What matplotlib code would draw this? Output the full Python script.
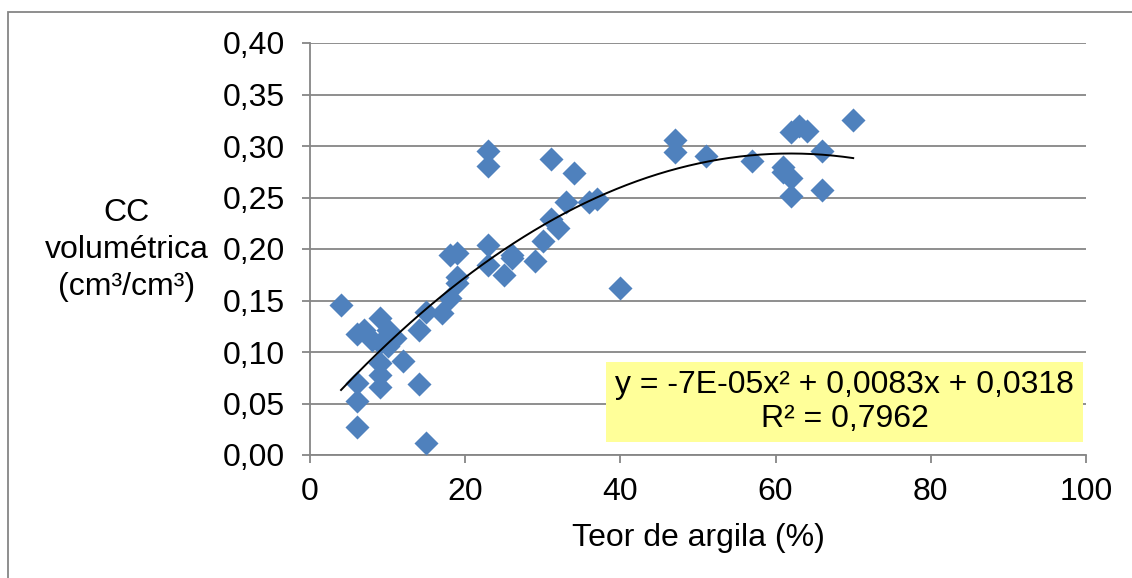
import numpy as np
import matplotlib
matplotlib.use("Agg")
import matplotlib.pyplot as plt
from matplotlib.patches import Rectangle

plt.rcParams['font.family'] = ['Liberation Sans', 'DejaVu Sans']

# clay content (%) and volumetric field capacity (cm3/cm3)
argila = [4, 6, 6, 6, 6, 7, 8, 9, 9, 9, 9, 9, 10, 10, 11, 12, 14, 14, 15, 15,
          17, 18, 18, 19, 19, 19, 23, 23, 23, 23, 25, 26, 26, 29, 30, 31, 31,
          32, 33, 34, 36, 37, 40, 47, 47, 51, 57, 61, 61, 62, 62, 62, 63, 64,
          66, 66, 70]
cc = [0.146, 0.117, 0.070, 0.052, 0.027, 0.121, 0.112, 0.133, 0.109, 0.089,
      0.078, 0.066, 0.121, 0.106, 0.114, 0.091, 0.121, 0.069, 0.139, 0.012,
      0.138, 0.194, 0.152, 0.196, 0.173, 0.167, 0.295, 0.281, 0.204, 0.184,
      0.175, 0.194, 0.191, 0.188, 0.208, 0.287, 0.229, 0.220, 0.246, 0.274,
      0.246, 0.249, 0.162, 0.306, 0.294, 0.290, 0.285, 0.280, 0.275, 0.269,
      0.251, 0.314, 0.319, 0.315, 0.295, 0.257, 0.325]

x_ticks = [0, 20, 40, 60, 80, 100]
y_ticks = [0.00, 0.05, 0.10, 0.15, 0.20, 0.25, 0.30, 0.35, 0.40]
eq_text = "y = -7E-05x² + 0,0083x + 0,0318\nR² = 0,7962"

grid_col = '#868686'
fs = 23

fig = plt.figure(figsize=(11.32, 5.78), dpi=100)
ax = fig.add_axes([310 / 1132, 123 / 578, 776 / 1132, 412 / 578])

# outer chart border (cropped at right and bottom)
fig.patches.append(Rectangle((8 / 1132, -0.2), 1.5, 0.2 + 1 - 12 / 578,
                             transform=fig.transFigure, fill=False,
                             edgecolor=grid_col, lw=1.3, zorder=0))

ax.scatter(argila, cc, marker='D', s=150, color='#4F81BD', linewidths=0,
           zorder=3, clip_on=False)

# polynomial trendline
coef = np.polyfit(argila, cc, 2)
xs = np.linspace(min(argila), max(argila), 200)
ax.plot(xs, np.polyval(coef, xs), color='black', lw=1.4, zorder=4)

ax.set_xlim(0, 100)
ax.set_ylim(0, 0.40)
ax.set_xticks(x_ticks)
ax.set_yticks(y_ticks)
ax.set_xticklabels([str(t) for t in x_ticks])
ax.set_yticklabels([f"{t:.2f}".replace('.', ',') for t in y_ticks])
ax.tick_params(labelsize=fs, color=grid_col, length=6, width=1.3)
ax.tick_params(axis='y', pad=12)
ax.tick_params(axis='x', pad=10)

ax.grid(axis='y', color=grid_col, lw=1.3)
ax.set_axisbelow(True)
for s in ['top', 'right']:
    ax.spines[s].set_visible(False)
for s in ['left', 'bottom']:
    ax.spines[s].set_color(grid_col)
    ax.spines[s].set_linewidth(1.3)

ax.set_xlabel("Teor de argila (%)", fontsize=fs, va='center')
ax.xaxis.set_label_coords(0.5, -0.2015)
ax.set_ylabel("CC\nvolumétrica\n(cm³/cm³)", fontsize=fs, rotation=0,
              ha='center', va='center', linespacing=1.3)
ax.yaxis.set_label_coords(-0.236, 0.498)

# equation box
ax.add_patch(Rectangle((0.381, 0.032), 0.615, 0.194, transform=ax.transAxes,
                       facecolor='#FFFF99', edgecolor='none', zorder=5))
ax.text(0.689, 0.129, eq_text, transform=ax.transAxes, fontsize=fs,
        ha='center', va='center', linespacing=1.15, zorder=6)

fig.savefig('out.png', dpi=100)
